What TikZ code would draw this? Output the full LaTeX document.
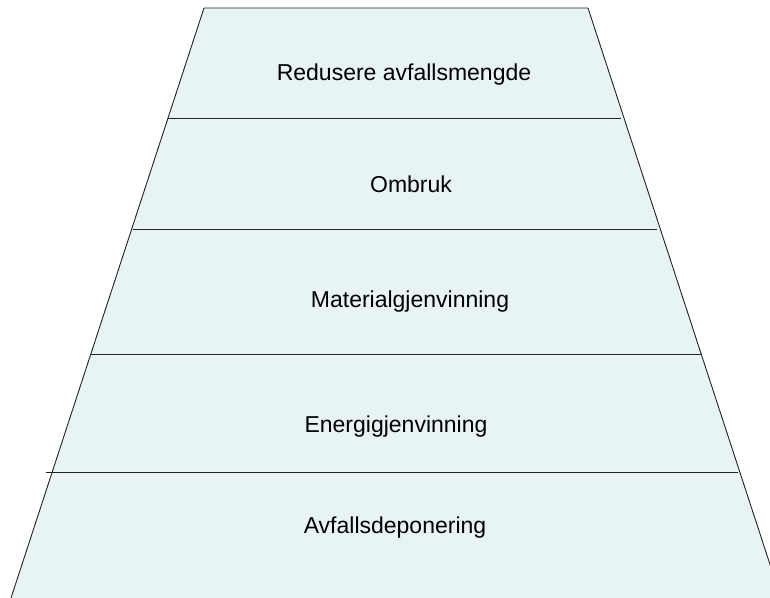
\documentclass[tikz,border=0pt]{standalone}
\usepackage{fontspec}
\setmainfont{Liberation Sans}
\definecolor{layerfill}{HTML}{E8F4F4}
\definecolor{edge}{HTML}{222222}
\tikzset{
  lvl/.style={font=\fontsize{23}{27}\selectfont, text=black, inner sep=0pt},
  sep/.style={draw=edge, line width=0.9pt},
}
\begin{document}
\begin{tikzpicture}[x=1pt,y=-1pt]
\useasboundingbox (0,0) rectangle (770,597);
\clip (0,0) rectangle (770,597);
\fill[layerfill] (204,8) -- (588,8) -- (781,598) -- (11,598) -- cycle;
\draw[edge, line width=0.9pt] (11,598) -- (204,8) -- (588,8) -- (781,598);
\draw[sep] (168,118) -- (621,118);
\draw[sep] (133,229) -- (657,229);
\draw[sep] (91,354) -- (701,354);
\draw[sep] (46,472) -- (738,472);
\node[lvl] (l1) at (404,75) {Redusere avfallsmengde};
\node[lvl] (l2) at (411,184) {Ombruk};
\node[lvl] (l3) at (410,302) {Materialgjenvinning};
\node[lvl] (l4) at (396,427) {Energigjenvinning};
\node[lvl] (l5) at (395,528) {Avfallsdeponering};
\end{tikzpicture}
\end{document}
